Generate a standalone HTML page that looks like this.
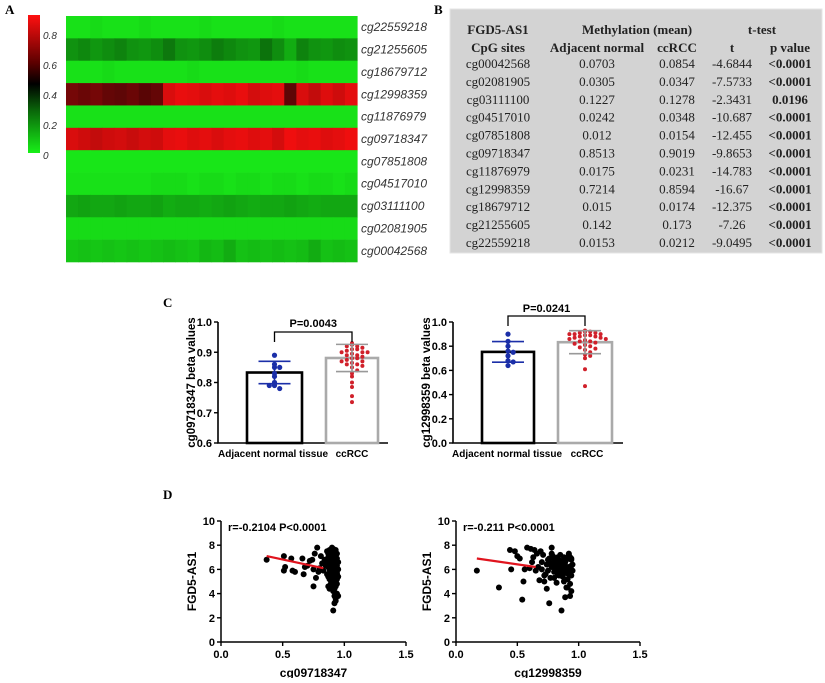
<!DOCTYPE html>
<html><head><meta charset="utf-8">
<style>
body{margin:0;background:#fff;width:825px;height:678px;overflow:hidden}
svg text{font-family:"Liberation Sans",Arial,sans-serif}
.serif{font-family:"Liberation Serif",serif}
</style></head>
<body>
<svg id="fig" width="825" height="678" viewBox="0 0 825 678" xmlns="http://www.w3.org/2000/svg">
<defs>
<linearGradient id="cbar" x1="0" y1="0" x2="0" y2="1">
<stop offset="0" stop-color="#ff1010"/><stop offset="0.35" stop-color="#5a0000"/><stop offset="0.5" stop-color="#000"/><stop offset="0.7" stop-color="#0a6a0a"/><stop offset="1" stop-color="#18f018"/>
</linearGradient>
</defs>
<text x="5" y="14" class="serif" font-weight="bold" font-size="13">A</text>
<text x="434" y="14" class="serif" font-weight="bold" font-size="13">B</text>
<text x="163" y="307" class="serif" font-weight="bold" font-size="13">C</text>
<text x="163" y="499" class="serif" font-weight="bold" font-size="13">D</text>
<g id="heat"></g>
<g id="table"></g>
<g id="barL"></g>
<g id="barR"></g>
<g id="scL"></g>
<g id="scR"></g>
</svg>
<script>
const NS="http://www.w3.org/2000/svg";
function mk(p,t,a,txt){const e=document.createElementNS(NS,t);for(const k in a)e.setAttribute(k,a[k]);if(txt!==undefined)e.textContent=txt;p.appendChild(e);return e;}

// ---------- Heatmap data ----------
const heatRows=["cg22559218","cg21255605","cg18679712","cg12998359","cg11876979","cg09718347","cg07851808","cg04517010","cg03111100","cg02081905","cg00042568"];
const heatVals=[
[0.02,0.02,0.03,0.02,0.02,0.02,0.03,0.02,0.02,0.02,0.02,0.03,0.02,0.02,0.02,0.02,0.02,0.03,0.02,0.02,0.02,0.02,0.02,0.02],
[0.17,0.19,0.16,0.18,0.2,0.17,0.16,0.18,0.22,0.17,0.16,0.18,0.21,0.19,0.17,0.16,0.23,0.18,0.12,0.2,0.17,0.16,0.18,0.17],
[0.02,0.02,0.02,0.03,0.02,0.02,0.02,0.02,0.02,0.02,0.03,0.02,0.02,0.02,0.02,0.02,0.02,0.02,0.02,0.03,0.02,0.02,0.02,0.02],
[0.66,0.64,0.66,0.63,0.62,0.64,0.61,0.63,0.84,0.87,0.86,0.84,0.86,0.85,0.87,0.83,0.85,0.86,0.62,0.84,0.8,0.85,0.82,0.86],
[0.02,0.02,0.02,0.02,0.02,0.02,0.02,0.02,0.02,0.02,0.02,0.02,0.02,0.02,0.02,0.02,0.02,0.02,0.02,0.02,0.02,0.02,0.02,0.02],
[0.84,0.82,0.8,0.82,0.83,0.81,0.83,0.82,0.86,0.87,0.85,0.86,0.84,0.86,0.87,0.85,0.86,0.83,0.88,0.86,0.87,0.85,0.86,0.88],
[0.01,0.01,0.01,0.01,0.01,0.01,0.01,0.01,0.01,0.01,0.01,0.01,0.01,0.01,0.01,0.01,0.01,0.01,0.01,0.01,0.01,0.01,0.01,0.01],
[0.02,0.02,0.02,0.02,0.02,0.02,0.02,0.03,0.03,0.03,0.02,0.03,0.03,0.02,0.03,0.03,0.02,0.03,0.03,0.02,0.03,0.03,0.02,0.03],
[0.13,0.14,0.13,0.13,0.14,0.13,0.13,0.14,0.12,0.13,0.13,0.12,0.13,0.14,0.13,0.12,0.13,0.13,0.14,0.13,0.12,0.13,0.13,0.13],
[0.03,0.03,0.03,0.03,0.03,0.03,0.03,0.03,0.03,0.03,0.03,0.03,0.03,0.03,0.03,0.03,0.03,0.03,0.03,0.03,0.03,0.03,0.03,0.03],
[0.07,0.08,0.07,0.08,0.07,0.08,0.07,0.08,0.09,0.08,0.07,0.1,0.09,0.12,0.08,0.09,0.08,0.09,0.08,0.09,0.12,0.08,0.09,0.08]];
const cbarTicks=[0,0.2,0.4,0.6,0.8];

function heatColor(v){
  if(v<=0.45){const t=v/0.45;return `rgb(${Math.round(25*(1-t))},${Math.round(235*(1-t))},${Math.round(25*(1-t))})`;}
  const t=Math.min(1,(v-0.45)/0.45);return `rgb(${Math.round(250*t)},${Math.round(15*t)},${Math.round(15*t)})`;
}
(function(){
  const g=document.getElementById('heat');
  const x0=66,x1=357,y0=16,y1=262,rh=(y1-y0)/heatRows.length;
  heatRows.forEach((name,r)=>{
    const vals=heatVals[r],cw=(x1-x0)/vals.length;
    vals.forEach((v,c)=>{
      const e=mk(g,'rect',{x:x0+c*cw,y:y0+r*rh,width:cw+0.6,height:rh+0.3,fill:heatColor(v)});
      
      
    });
    const t=mk(g,'text',{x:361,y:y0+r*rh+rh/2+4,'font-size':12,'font-style':'italic',fill:'#333'},name);
    
    
  });
  const cb=mk(g,'rect',{x:28,y:15,width:12,height:138,fill:'url(#cbar)'});
  
  
  const cy=v=>155-v*150;
  cbarTicks.forEach(v=>{
    const t=mk(g,'text',{x:43,y:cy(v)+4,'font-size':10,'font-style':'italic',fill:'#333'},v===0?'0':v.toFixed(1));
    
    
  });
})();

// ---------- Table ----------
const tSites=["cg00042568","cg02081905","cg03111100","cg04517010","cg07851808","cg09718347","cg11876979","cg12998359","cg18679712","cg21255605","cg22559218"];
const tNormal=["0.0703","0.0305","0.1227","0.0242","0.012","0.8513","0.0175","0.7214","0.015","0.142","0.0153"];
const tCcrcc=["0.0854","0.0347","0.1278","0.0348","0.0154","0.9019","0.0231","0.8594","0.0174","0.173","0.0212"];
const tT=["-4.6844","-7.5733","-2.3431","-10.687","-12.455","-9.8653","-14.783","-16.67","-12.375","-7.26","-9.0495"];
const tP=["<0.0001","<0.0001","0.0196","<0.0001","<0.0001","<0.0001","<0.0001","<0.0001","<0.0001","<0.0001","<0.0001"];
(function(){
  const g=document.getElementById('table');
  const bg=mk(g,'rect',{x:450,y:9,width:372,height:244,fill:'#d3d3d3',stroke:'#e6e6e6'});
  
  
  const cx=[498,597,677,732,790];
  const H=(x,y,s)=>{const t=mk(g,'text',{x:x,y:y,'text-anchor':'middle','font-size':13,'font-weight':'bold',class:'serif',fill:'#222'},s);};
  H(498,34,'FGD5-AS1');H(637,34,'Methylation (mean)');H(762,34,'t-test');
  H(498,52,'CpG sites');H(597,52,'Adjacent normal');H(677,52,'ccRCC');H(732,52,'t');H(790,52,'p value');
  tSites.forEach((s,i)=>{
    const y=68+i*17.9;
    [s,tNormal[i],tCcrcc[i],tT[i],tP[i]].forEach((v,j)=>{
      const t=mk(g,'text',{x:cx[j],y:y,'text-anchor':'middle','font-size':13,class:'serif',fill:'#222','font-weight':j===4?'bold':'normal'},v);
      
      
    });
  });
})();

// ---------- Bar charts ----------
const barCats=["Adjacent normal tissue","ccRCC"];
const leftMeans=[0.833,0.881];
const leftSD=[0.037,0.045];
const leftNormalDots=[0.89,0.86,0.85,0.85,0.83,0.82,0.80,0.79,0.78,0.79];
const leftTumorDots=[0.93,0.925,0.92,0.92,0.915,0.91,0.91,0.905,0.9,0.9,0.9,0.895,0.89,0.89,0.885,0.88,0.88,0.875,0.87,0.87,0.865,0.86,0.86,0.855,0.85,0.84,0.83,0.82,0.80,0.785,0.755,0.735];
const rightMeans=[0.753,0.833];
const rightSD=[0.085,0.095];
const rightNormalDots=[0.90,0.84,0.80,0.76,0.75,0.72,0.68,0.67,0.64];
const rightTumorDots=[0.93,0.92,0.92,0.91,0.91,0.9,0.9,0.9,0.89,0.89,0.88,0.88,0.87,0.87,0.86,0.86,0.85,0.84,0.84,0.83,0.82,0.81,0.8,0.79,0.78,0.77,0.75,0.73,0.72,0.70,0.61,0.47];

function barChart(id,ax,top,bot,ymin,ymax,ticks,means,sd,dotsA,dotsB,bx,labX,pLabel,ptextY,bracketY,ytitle){
  const g=document.getElementById(id);
  const y=v=>bot-(v-ymin)/(ymax-ymin)*(bot-top);
  const axes=mk(g,'path',{d:`M${ax},${top} V${bot} H${ax+170}`,stroke:'#000','stroke-width':1.6,fill:'none'});
  
  
  ticks.forEach(v=>{
    mk(g,'line',{x1:ax-4,x2:ax,y1:y(v),y2:y(v),stroke:'#000','stroke-width':1.4});
    const t=mk(g,'text',{x:ax-6,y:y(v)+4,'text-anchor':'end','font-size':11,'font-weight':'bold'},v.toFixed(1));
    
    
  });
  const yt=mk(g,'text',{transform:`translate(${ax-23},${(top+bot)/2}) rotate(-90)`,'text-anchor':'middle','font-size':11.5,'font-weight':'bold'},ytitle);
  
  
  const cols=['#000','#aaa'],dcol=['#1b2fa8','#d0202a'],dots=[dotsA,dotsB];
  bx.forEach((b,i)=>{
    const r=mk(g,'rect',{x:b[0],y:y(means[i]),width:b[1]-b[0],height:bot-y(means[i]),fill:'#fff',stroke:cols[i],'stroke-width':2.6});
    
    
    const cx=(b[0]+b[1])/2;
    const buckets={};
    dots[i].forEach(v=>{
      const k=Math.round(y(v)/4.5);buckets[k]=(buckets[k]||0)+1;const n=buckets[k]-1;
      const off=(n%2?1:-1)*Math.ceil(n/2)*5.2;
      const c=mk(g,'circle',{cx:cx+off,cy:y(v),r:i?2:2.6,fill:dcol[i]});
      
      
    });
    const ec=i?'#999':dcol[0];
    mk(g,'path',{d:`M${cx},${y(means[i]-sd[i])} V${y(means[i]+sd[i])} M${cx-16},${y(means[i]+sd[i])} h32 M${cx-16},${y(means[i]-sd[i])} h32`,stroke:ec,'stroke-width':1.6,fill:'none'});
    const lt=mk(g,'text',{x:labX[i],y:bot+14,'text-anchor':'middle','font-size':10,'font-weight':'bold'},barCats[i]);
    
    
  });
  const c0=(bx[0][0]+bx[0][1])/2,c1=(bx[1][0]+bx[1][1])/2;
  mk(g,'path',{d:`M${c0},${bracketY+10} V${bracketY} H${c1} V${bracketY+10}`,stroke:'#000','stroke-width':1.3,fill:'none'});
  const p=mk(g,'text',{x:(c0+c1)/2,y:ptextY,'text-anchor':'middle','font-size':11,'font-weight':'bold'},pLabel);
  
  
}
barChart('barL',218,322,443,0.6,1.0,[0.6,0.7,0.8,0.9,1.0],leftMeans,leftSD,leftNormalDots,leftTumorDots,[[247,302],[326,378]],[273,352],'P=0.0043',327,332,'cg09718347 beta values');
barChart('barR',453,322,443,0,1.0,[0,0.2,0.4,0.6,0.8,1.0],rightMeans,rightSD,rightNormalDots,rightTumorDots,[[482,534],[558,612]],[507,587],'P=0.0241',312,316,'cg12998359 beta values');

// ---------- Scatter data ----------
const scLx=[0.37,0.51,0.51,0.52,0.57,0.58,0.6,0.66,0.67,0.68,0.7,0.72,0.74,0.75,0.75,0.76,0.77,0.78,0.79,0.8,0.81,0.82,0.83,0.84,0.85,
0.86,0.87,0.88,0.89,0.9,0.91,0.92,0.93,0.94,0.86,0.87,0.88,0.89,0.9,0.91,0.92,0.93,0.94,0.95,0.86,0.87,0.88,0.89,0.9,0.91,0.92,0.93,0.94,0.95,0.87,0.88,0.9,0.91,0.92,0.93,0.94,0.92,0.91,0.93,0.95,0.89,0.9,0.91,0.92,0.93,0.88,0.89,0.9,0.91,0.92,0.93,0.94,0.89,0.9,0.91,0.92,0.93,0.94,0.87,0.88,0.9,0.91,0.92,0.89,0.9,0.91,0.92,0.93,0.94,0.88,0.9,0.92,0.94,0.87,0.89,0.91,0.93,0.95];
const scLy=[6.8,7.1,5.9,6.2,6.9,5.9,5.8,6.9,5.6,6.2,6.3,6.7,6.8,4.6,6.0,7.3,5.3,7.8,5.8,6.1,7.1,6.5,5.9,6.8,6.3,
7.5,7.0,6.8,7.6,7.8,7.4,7.2,7.6,6.9,6.5,6.2,6.0,5.8,6.4,6.6,6.1,5.9,6.3,6.0,5.6,5.4,5.2,5.5,5.0,5.3,4.8,5.1,5.6,5.4,4.6,4.4,4.5,4.2,3.8,3.6,4.0,3.2,2.6,3.4,3.8,6.9,7.1,6.9,6.7,6.5,6.4,6.2,6.0,5.8,5.6,5.4,5.2,5.1,5.6,6.2,6.9,7.0,7.3,7.3,7.6,7.4,7.7,7.5,4.8,4.9,4.7,4.4,4.6,4.8,5.7,5.9,6.1,5.7,6.6,6.3,6.4,6.2,6.6];
const scRx=[0.17,0.35,0.44,0.45,0.48,0.5,0.52,0.54,0.55,0.56,0.58,0.6,0.61,0.62,0.63,0.64,0.65,0.66,0.67,0.68,0.69,0.7,0.71,0.72,0.73,0.74,0.75,0.76,0.77,0.78,0.79,0.8,0.81,0.82,0.83,0.84,0.85,0.86,0.87,0.88,0.89,0.9,0.91,0.92,0.93,0.94,
0.7,0.72,0.74,0.76,0.78,0.8,0.82,0.84,0.86,0.88,0.9,0.92,0.94,0.75,0.77,0.79,0.81,0.83,0.85,0.87,0.89,0.91,0.93,0.95,0.8,0.82,0.84,0.86,0.88,0.9,0.92,0.94,0.78,0.81,0.85,0.88,0.91,0.93,0.95,0.83,0.87,0.9,0.92,0.94,0.86,0.89,0.92,0.94];
const scRy=[5.9,4.5,7.6,6.0,7.5,7.1,6.9,3.5,5.0,6.0,7.8,6.1,7.7,6.6,7.0,7.6,5.9,7.3,6.2,5.1,7.5,6.6,7.2,5.0,5.6,4.4,6.8,3.2,5.3,7.8,6.4,5.8,6.9,4.9,6.3,5.5,6.7,2.6,5.9,7.0,3.7,6.1,4.5,7.3,3.8,6.8,
6.0,5.5,6.4,6.9,6.2,5.3,6.6,6.0,5.7,6.4,6.8,5.9,6.3,5.9,6.5,7.1,6.0,5.6,6.2,5.4,6.6,5.2,7.0,6.4,6.7,6.1,5.9,6.3,5.0,5.7,6.2,5.5,7.3,6.5,7.2,6.0,5.8,4.8,5.9,7.0,6.6,4.5,7.2,4.2,6.0,6.3,5.6,6.9];
const scLfit=[[0.37,7.1],[0.83,6.1]];
const scRfit=[[0.17,6.9],[0.65,6.2]];
const scXticks=[0,0.5,1.0,1.5];
const scYticks=[0,2,4,6,8,10];

function scatter(id,ax,top,bot,xr,xs,ys,fit,label,xtitle){
  const g=document.getElementById(id);
  const X=v=>ax+v/1.5*(xr-ax), Y=v=>bot-v/10*(bot-top);
  const axes=mk(g,'path',{d:`M${ax},${top} V${bot} H${xr}`,stroke:'#000','stroke-width':1.5,fill:'none'});
  
  
  scYticks.forEach(v=>{
    mk(g,'line',{x1:ax-4,x2:ax,y1:Y(v),y2:Y(v),stroke:'#000','stroke-width':1.4});
    const t=mk(g,'text',{x:ax-6,y:Y(v)+4,'text-anchor':'end','font-size':11,'font-weight':'bold'},String(v));
    
    
  });
  scXticks.forEach(v=>{
    mk(g,'line',{x1:X(v),x2:X(v),y1:bot,y2:bot+4,stroke:'#000','stroke-width':1.4});
    const t=mk(g,'text',{x:X(v),y:bot+16,'text-anchor':'middle','font-size':11,'font-weight':'bold'},v.toFixed(1));
    
    
  });
  xs.forEach((v,i)=>{
    const c=mk(g,'circle',{cx:X(v),cy:Y(ys[i]),r:3,fill:'#000'});
    
    
  });
  const l=mk(g,'line',{x1:X(fit[0][0]),y1:Y(fit[0][1]),x2:X(fit[1][0]),y2:Y(fit[1][1]),stroke:'#e0141e','stroke-width':2.2});
  
  
  const a=mk(g,'text',{x:ax+7,y:top+10,'font-size':11,'font-weight':'bold'},label);
  
  
  const yt=mk(g,'text',{transform:`translate(${ax-25},${(top+bot)/2}) rotate(-90)`,'text-anchor':'middle','font-size':12,'font-weight':'bold'},'FGD5-AS1');
  
  
  const xt=mk(g,'text',{x:(ax+xr)/2,y:bot+35,'text-anchor':'middle','font-size':12,'font-weight':'bold'},xtitle);
  
  
}
scatter('scL',221,521,642,406,scLx,scLy,scLfit,'r=-0.2104 P<0.0001','cg09718347');
scatter('scR',456,521,642,640,scRx,scRy,scRfit,'r=-0.211 P<0.0001','cg12998359');
</script>
</body></html>
